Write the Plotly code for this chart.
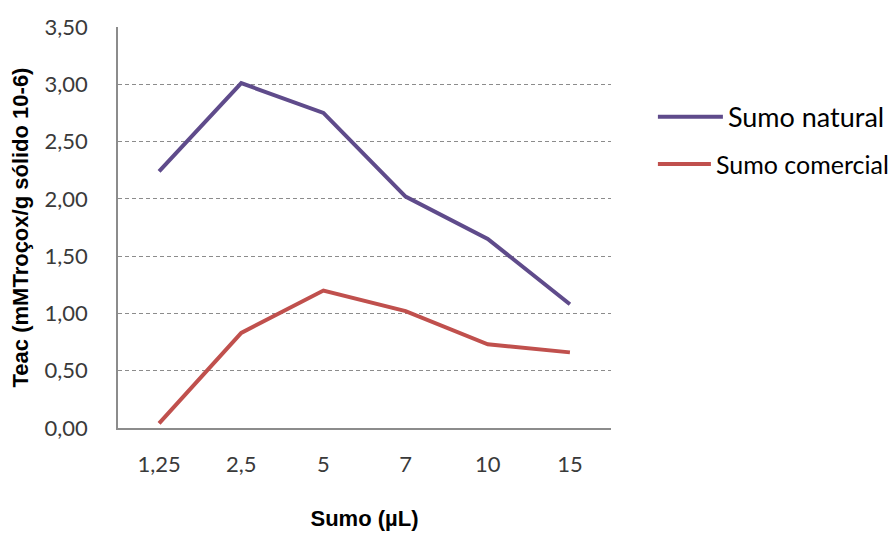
import plotly.graph_objects as go

doses = ["1,25", "2,5", "5", "7", "10", "15"]
sumo_natural = [2.24, 3.01, 2.75, 2.02, 1.65, 1.08]
sumo_comercial = [0.04, 0.83, 1.20, 1.02, 0.73, 0.66]
y_ticks = [0, 0.5, 1.0, 1.5, 2.0, 2.5, 3.0, 3.5]
y_tick_labels = ["0,00", "0,50", "1,00", "1,50", "2,00", "2,50", "3,00", "3,50"]

fig = go.Figure()
fig.add_trace(go.Scatter(
    x=doses, y=sumo_natural, mode="lines", name="Sumo natural",
    line=dict(color="#5F4B8B", width=4), legend="legend",
))
fig.add_trace(go.Scatter(
    x=doses, y=sumo_comercial, mode="lines", name="Sumo comercial",
    line=dict(color="#C0504D", width=4), legend="legend2",
))

tick_font = dict(family="Lato, Open Sans, sans-serif", size=22, color="#3A3A3A")
title_font = dict(family="Liberation Sans, Arial, sans-serif", size=22, color="#000000")

fig.update_layout(
    width=893, height=534,
    margin=dict(l=118, r=282, t=27, b=106, autoexpand=False),
    paper_bgcolor="white", plot_bgcolor="white",
    showlegend=True,
    legend=dict(
        x=1.085, y=0.775, xanchor="left", yanchor="middle", itemwidth=65,
        font=dict(family="Lato, Open Sans, sans-serif", size=27, color="#000000"),
        bgcolor="rgba(0,0,0,0)",
    ),
    legend2=dict(
        x=1.085, y=0.658, xanchor="left", yanchor="middle", itemwidth=53,
        font=dict(family="Lato, Open Sans, sans-serif", size=25, color="#000000"),
        bgcolor="rgba(0,0,0,0)",
    ),
    xaxis=dict(
        type="category", range=[-0.5, 5.5], automargin=False,
        showline=True, linecolor="#8C8C8C", linewidth=1.5,
        showgrid=False, ticks="", tickfont=tick_font, ticklabelstandoff=16,
        title=dict(text="<b>Sumo (µL)</b>", font=title_font, standoff=34),
    ),
    yaxis=dict(
        range=[0, 3.5], tickvals=y_ticks, ticktext=y_tick_labels, automargin=False,
        showline=True, linecolor="#8C8C8C", linewidth=1.5,
        showgrid=True, gridcolor="#8C8C8C", griddash="4px,3px", gridwidth=1,
        ticks="", ticklabelstandoff=24,
        tickfont=tick_font, zeroline=False,
        title=dict(text="<b>Teac (mMTroçox/g sólido 10-6)</b>", font=title_font, standoff=10),
    ),
)

fig.write_html("out.html")
